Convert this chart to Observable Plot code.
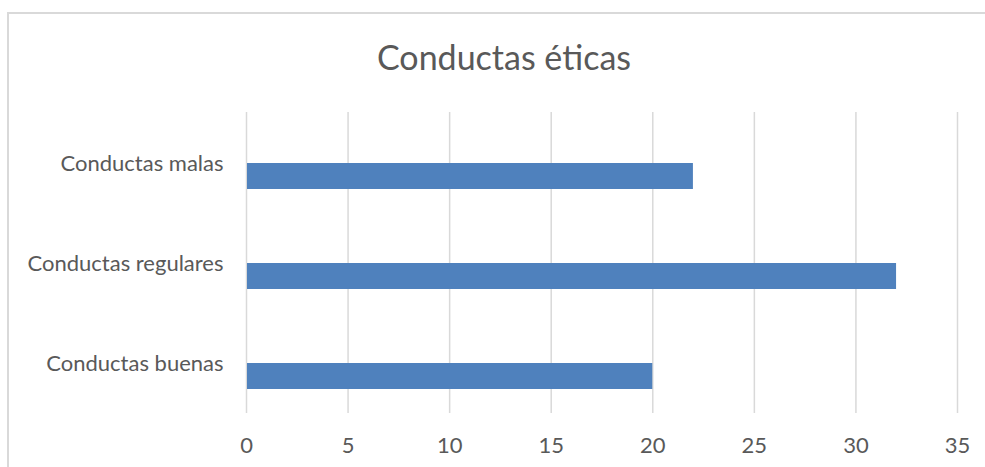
<!DOCTYPE html>
<html>
<head>
<meta charset="utf-8">
<script src="https://cdn.jsdelivr.net/npm/d3@7"></script>
<script src="https://cdn.jsdelivr.net/npm/@observablehq/plot@0.6"></script>
<style>
  html, body { margin: 0; padding: 0; background: #fff; overflow: hidden; }
  #wrap { position: relative; width: 985px; height: 467px; overflow: hidden; font-family: Lato, "Open Sans", sans-serif; }
  #border { position: absolute; left: 7px; top: 12px; width: 1100px; height: 600px; border: 2px solid #d9d9d9; box-sizing: border-box; }
  #title { position: absolute; left: 8px; width: 992px; top: 40px; text-align: center; font-size: 34px; color: #595959; line-height: 1; }
  #chart { position: absolute; left: 0; top: 0; }
</style>
</head>
<body>
<div id="wrap">
  <div id="border"></div>
  <div id="title">Conductas éticas</div>
  <div id="chart"></div>
</div>
<script>
const categories = ["Conductas malas", "Conductas regulares", "Conductas buenas"];
const values = [22, 32, 20];
const xTicks = [0, 5, 10, 15, 20, 25, 30, 35];

const data = categories.map((c, i) => ({category: c, value: values[i]}));

const plot = Plot.plot({
  width: 985,
  height: 467,
  marginLeft: 246,
  marginRight: 28,
  marginTop: 112,
  marginBottom: 54,
  style: {background: "transparent", fontFamily: "Lato, 'Open Sans', sans-serif", color: "#595959"},
  x: {domain: [0, 35], ticks: xTicks},
  y: {domain: categories, padding: 0},
  marks: [
    Plot.gridX(xTicks, {stroke: "#d9d9d9", strokeOpacity: 1, strokeWidth: 1.5}),
    Plot.barX(data, {x: "value", y: "category", fill: "#4f81bd", insetTop: 50, insetBottom: 24, insetLeft: 1}),
    Plot.axisX(xTicks, {tickSize: 0, tickPadding: 24, fontSize: 22, fill: "#595959", label: null}),
    Plot.axisY(categories, {tickSize: 0, tickPadding: 23, fontSize: 22, fill: "#595959", label: null})
  ]
});
document.getElementById("chart").appendChild(plot);
</script>
</body>
</html>
